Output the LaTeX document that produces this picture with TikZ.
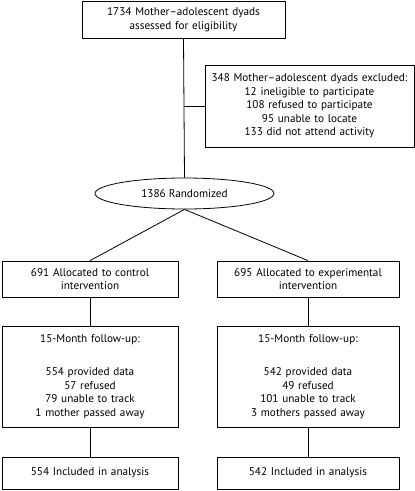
\documentclass[tikz,border=0pt]{standalone}
\usepackage{fontspec}
\setmainfont{PT Sans}
\usetikzlibrary{shapes.geometric}
\begin{document}
\begin{tikzpicture}[x=1pt,y=-1pt,
  box/.style={draw,line width=0.8pt,align=center,inner sep=0pt,
    font=\fontsize{11.2}{13.5}\selectfont},
  conn/.style={line width=0.8pt}]
\useasboundingbox (0,0) rectangle (415,491);
\node[box,minimum width=203pt,minimum height=37pt,text width=195pt] (top) at (183.5,19.5)
  {1734 Mother–adolescent dyads\\assessed for eligibility};
\node[box,minimum width=209pt,minimum height=82pt,text width=205pt] (excl) at (309.5,106)
  {348 Mother–adolescent dyads excluded:\\12 ineligible to participate\\108 refused to participate\\95 unable to locate\\133 did not attend activity};
\node[box,ellipse,minimum width=179pt,minimum height=31pt] (rand) at (184.5,193.5)
  {1386 Randomized};
\node[box,minimum width=176pt,minimum height=36pt,text width=170pt] (ctl) at (90,279)
  {691 Allocated to control\\intervention};
\node[box,minimum width=182pt,minimum height=36pt,text width=176pt] (exp) at (308,279)
  {695 Allocated to experimental\\intervention};
\node[box,minimum width=176pt,minimum height=101pt,text width=170pt] (fctl) at (90,376.5)
  {15-Month follow-up:\\[20pt]554 provided data\\57 refused\\79 unable to track\\1 mother passed away};
\node[box,minimum width=182pt,minimum height=101pt,text width=176pt] (fexp) at (308,376.5)
  {15-Month follow-up:\\[20pt]542 provided data\\49 refused\\101 unable to track\\3 mothers passed away};
\node[box,minimum width=176pt,minimum height=32pt,text width=170pt] (actl) at (90,473)
  {554 Included in analysis};
\node[box,minimum width=182pt,minimum height=32pt,text width=176pt] (aexp) at (308,473)
  {542 Included in analysis};
\draw[conn] (top.south) -- (rand.north);
\draw[conn] (top.south |- excl.west) -- (excl.west);
\draw[conn] (rand.south) -- (ctl.north);
\draw[conn] (rand.south) -- (exp.north);
\draw[conn] (ctl.south) -- (fctl.north);
\draw[conn] (exp.south) -- (fexp.north);
\draw[conn] (fctl.south) -- (actl.north);
\draw[conn] (fexp.south) -- (aexp.north);
\end{tikzpicture}
\end{document}
